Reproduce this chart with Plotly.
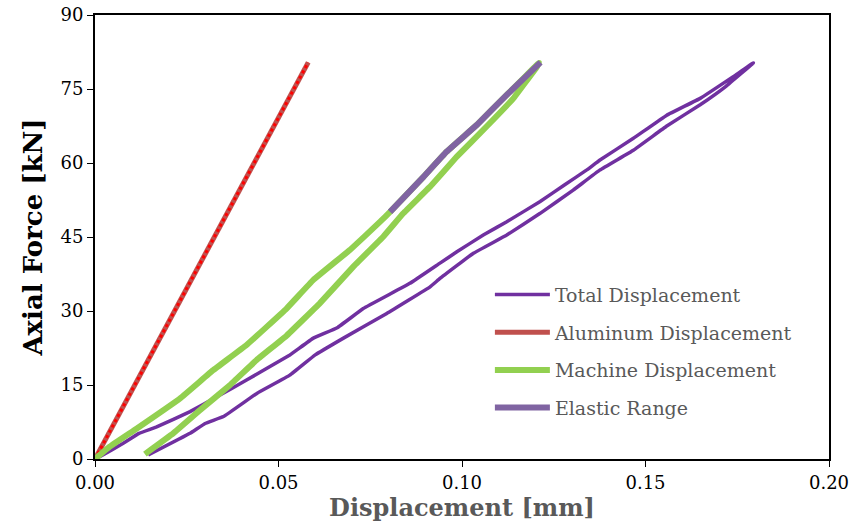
import plotly.graph_objects as go

# Total displacement (loading from origin, then unloading back)
total_x = [0, 0.0014, 0.0077, 0.0120, 0.0168, 0.0259, 0.0332, 0.0413, 0.0531, 0.0595, 0.0660, 0.0731, 0.0858,
           0.094, 0.0986, 0.1058, 0.1122, 0.1213, 0.1280, 0.134, 0.1376, 0.1467, 0.1558, 0.1649, 0.1739, 0.1794,
           0.1720, 0.1649, 0.1558, 0.1467, 0.1376, 0.1303, 0.1213, 0.1122, 0.1031, 0.094, 0.0913, 0.0795,
           0.0677, 0.0600, 0.0531, 0.0441, 0.035, 0.0300, 0.0259, 0.0145]
total_y = [0, 0.5, 3.2, 5.2, 6.5, 9.6, 12.6, 16.0, 21.1, 24.5, 26.6, 30.5, 35.6,
           39.7, 42.0, 45.4, 48.1, 52.2, 55.6, 58.6, 60.6, 65.0, 69.7, 73.1, 77.5, 80.3,
           75.6, 71.8, 67.5, 62.6, 58.6, 54.5, 49.8, 45.4, 41.7, 36.6, 34.9, 29.5,
           24.5, 21.1, 17.0, 13.3, 8.6, 7.2, 5.2, 0.8]

# Aluminum displacement
alu_x = [0, 0.0581]
alu_y = [0, 80.4]

# Machine displacement
mach_x = [0, 0.0040, 0.0114, 0.0232, 0.0322, 0.0413, 0.0522, 0.0595, 0.0695, 0.0777, 0.0804,
          0.0895, 0.0958, 0.104, 0.1122, 0.1210,
          0.1204, 0.114, 0.1067, 0.0986, 0.0913, 0.084, 0.0786, 0.0704, 0.0613, 0.0522,
          0.0441, 0.0368, 0.0286, 0.0213, 0.0136]
mach_y = [0, 2.5, 6.2, 12.3, 18.0, 23.1, 30.5, 36.3, 42.4, 48.1, 50.1,
          57.2, 62.3, 67.7, 73.8, 80.3,
          79.5, 73.1, 67.4, 61.3, 55.2, 49.8, 45.1, 39.0, 31.6, 25.0,
          20.1, 15.0, 9.9, 5.2, 1.0]

# Elastic range
el_x = [0.0804, 0.0895, 0.0958, 0.104, 0.1122, 0.1214]
el_y = [50.1, 57.2, 62.3, 67.7, 73.8, 80.4]

x_ticks = [0.0, 0.05, 0.10, 0.15, 0.20]
y_ticks = [0, 15, 30, 45, 60, 75, 90]

fig = go.Figure()
fig.add_trace(go.Scatter(x=total_x, y=total_y, mode="lines", name="Total Displacement", legendgroup="a",
                         line=dict(color="#7030A0", width=3.5, shape="spline", smoothing=0.2)))
fig.add_trace(go.Scatter(x=alu_x, y=alu_y, mode="lines", name="Aluminum Displacement", legendgroup="b",
                         line=dict(color="#C0504D", width=5)))
fig.add_trace(go.Scatter(x=alu_x, y=alu_y, mode="lines", showlegend=False, legendgroup="b",
                         line=dict(color="#FF0000", width=3, dash="dot")))
fig.add_trace(go.Scatter(x=mach_x, y=mach_y, mode="lines", name="Machine Displacement", legendgroup="c",
                         line=dict(color="#92D050", width=6, shape="spline", smoothing=0.2)))
fig.add_trace(go.Scatter(x=el_x, y=el_y, mode="lines", name="Elastic Range", legendgroup="d",
                         line=dict(color="#8064A2", width=6, shape="spline", smoothing=0.2)))

tick_font = dict(family="DejaVu Serif", size=18, color="#000000")
fig.update_layout(
    width=852, height=531,
    margin=dict(l=95, r=23, t=15, b=72, autoexpand=False),
    paper_bgcolor="white", plot_bgcolor="white",
    showlegend=True,
    legend=dict(x=0.538, y=0.413, xanchor="left", yanchor="top",
                font=dict(family="DejaVu Serif", size=19, color="#595959"),
                bgcolor="rgba(0,0,0,0)", tracegroupgap=10, itemwidth=55),
    xaxis=dict(range=[0, 0.2], tickvals=x_ticks, ticktext=[f"{v:.2f}" for v in x_ticks],
               automargin=False,
               showgrid=False, zeroline=False, showline=True, linecolor="black", linewidth=2,
               mirror=True, ticks="outside", ticklen=6, tickcolor="black", tickfont=tick_font,
               title=dict(text="<b>Displacement [mm]</b>", standoff=4,
                          font=dict(family="DejaVu Serif", size=24, color="#595959"))),
    yaxis=dict(range=[0, 90], tickvals=y_ticks, showgrid=False, zeroline=False, automargin=False,
               showline=True, linecolor="black", linewidth=2, mirror=True,
               ticks="outside", ticklen=6, tickcolor="black", tickfont=tick_font,
               title=dict(text="<b>Axial Force [kN]</b>", standoff=10,
                          font=dict(family="DejaVu Serif", size=26, color="#000000"))),
)
fig.write_html("out.html")
